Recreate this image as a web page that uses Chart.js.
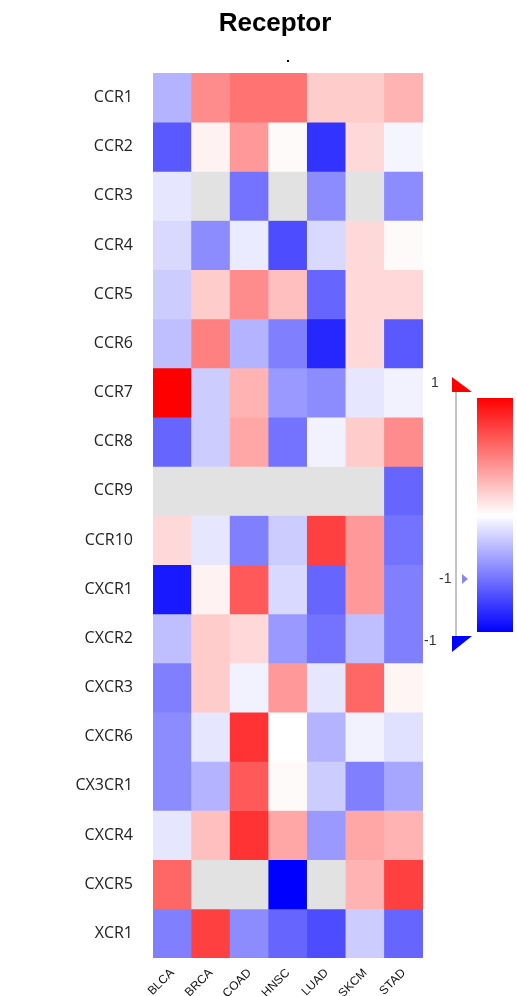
<!DOCTYPE html>
<html><head><meta charset="utf-8">
<script src="https://cdn.jsdelivr.net/npm/chart.js@4"></script>
<style>html,body{margin:0;padding:0;background:#fff}</style>
</head><body>
<canvas id="c" width="517" height="996" style="width:517px;height:996px"></canvas>
<script>
const cancers = ["BLCA","BRCA","COAD","HNSC","LUAD","SKCM","STAD"];
const receptors = ["CCR1","CCR2","CCR3","CCR4","CCR5","CCR6","CCR7","CCR8","CCR9","CCR10","CXCR1","CXCR2","CXCR3","CXCR6","CX3CR1","CXCR4","CXCR5","XCR1"];
// null = grey (no value)
const CCR1 = [-0.3,0.45,0.55,0.55,0.2,0.2,0.3];
const CCR2 = [-0.65,0.05,0.4,0.02,-0.8,0.15,-0.04];
const CCR3 = [-0.1,null,-0.55,null,-0.45,null,-0.45];
const CCR4 = [-0.15,-0.45,-0.08,-0.7,-0.15,0.15,0.02];
const CCR5 = [-0.2,0.2,0.45,0.25,-0.6,0.15,0.15];
const CCR6 = [-0.25,0.5,-0.3,-0.5,-0.85,0.15,-0.65];
const CCR7 = [1.0,-0.2,0.3,-0.4,-0.45,-0.1,-0.05];
const CCR8 = [-0.6,-0.2,0.35,-0.55,-0.05,0.2,0.45];
const CCR9 = [null,null,null,null,null,null,-0.6];
const CCR10 = [0.15,-0.1,-0.5,-0.2,0.75,0.4,-0.55];
const CXCR1 = [-0.9,0.05,0.65,-0.15,-0.6,0.4,-0.5];
const CXCR2 = [-0.25,0.2,0.15,-0.4,-0.55,-0.25,-0.5];
const CXCR3 = [-0.5,0.2,-0.05,0.4,-0.1,0.6,0.04];
const CXCR6 = [-0.45,-0.1,0.8,0.0,-0.3,-0.05,-0.12];
const CX3CR1 = [-0.45,-0.3,0.65,0.02,-0.2,-0.5,-0.35];
const CXCR4 = [-0.1,0.25,0.8,0.35,-0.4,0.35,0.3];
const CXCR5 = [0.6,null,null,-1.0,null,0.3,0.75];
const XCR1 = [-0.5,0.75,-0.45,-0.6,-0.7,-0.2,-0.6];
const values = [CCR1,CCR2,CCR3,CCR4,CCR5,CCR6,CCR7,CCR8,CCR9,CCR10,CXCR1,CXCR2,CXCR3,CXCR6,CX3CR1,CXCR4,CXCR5,XCR1];

function col(v){
  if(v===null) return '#e2e2e2';
  let r,g,b;
  if(v>=0){r=255;g=Math.round(255*(1-v));b=g;}
  else{b=255;r=Math.round(255*(1+v));g=r;}
  return `rgb(${r},${g},${b})`;
}
const datasets = receptors.map((name,i)=>({
  label:name, data:cancers.map(()=>1),
  backgroundColor:values[i].map(col), borderWidth:0,
  categoryPercentage:1, barPercentage:1, stack:'s'
}));

const deco = {
  id:'deco',
  afterDraw(chart){
    const ctx=chart.ctx;
    ctx.save();
    ctx.fillStyle='#000';
    ctx.font='bold 26px "Liberation Sans", Arial';
    ctx.textAlign='center'; ctx.textBaseline='middle';
    ctx.fillText('Receptor',275,24);
    ctx.fillRect(287,60,2,2);
    const x0=477,x1=513,y0=398,y1=632;
    const g=ctx.createLinearGradient(0,y0,0,y1);
    g.addColorStop(0,'rgb(255,0,0)');g.addColorStop(0.5,'#fff');g.addColorStop(1,'rgb(0,0,255)');
    ctx.fillStyle=g; ctx.fillRect(x0,y0,x1-x0,y1-y0);
    ctx.strokeStyle='#888'; ctx.lineWidth=1;
    ctx.beginPath(); ctx.moveTo(456,392); ctx.lineTo(456,636); ctx.stroke();
    ctx.fillStyle='red';
    ctx.beginPath(); ctx.moveTo(452,377); ctx.lineTo(472,392); ctx.lineTo(452,392); ctx.closePath(); ctx.fill();
    ctx.fillStyle='blue';
    ctx.beginPath(); ctx.moveTo(452,636); ctx.lineTo(472,636); ctx.lineTo(452,652); ctx.closePath(); ctx.fill();
    ctx.fillStyle='#8888ee';
    ctx.beginPath(); ctx.moveTo(462,574); ctx.lineTo(468,579); ctx.lineTo(462,584); ctx.closePath(); ctx.fill();
    ctx.fillStyle='#333'; ctx.font='14px "Liberation Sans", Arial'; ctx.textAlign='left';
    ctx.fillText('1',431,383); ctx.fillText('-1',439,579); ctx.fillText('-1',424,641);
    ctx.restore();
  }
};

new Chart(document.getElementById('c'),{
  type:'bar',
  data:{labels:cancers,datasets},
  options:{
    responsive:false, animation:false,
    layout:{padding:{top:73,right:94,bottom:0,left:0}},
    plugins:{legend:{display:false},tooltip:{enabled:false}},
    scales:{
      x:{stacked:true,grid:{display:false},border:{display:false},
        ticks:{minRotation:45,maxRotation:45,color:'#111',font:{size:12,family:'"Liberation Sans", Arial'},padding:0},
        afterFit(s){s.height=38;}},
      y:{stacked:true,reverse:true,min:0,max:18,grid:{display:false},border:{display:false},
        afterBuildTicks(s){s.ticks=receptors.map((r,i)=>({value:i+0.5}));},
        ticks:{autoSkip:false,color:'#222',font:{size:16,family:'"Open Sans", Arial'},padding:12,
          callback:(v)=>receptors[Math.floor(v)]},
        afterFit(s){s.width=153;}}
    }
  },
  plugins:[deco]
});
</script>
</body></html>
